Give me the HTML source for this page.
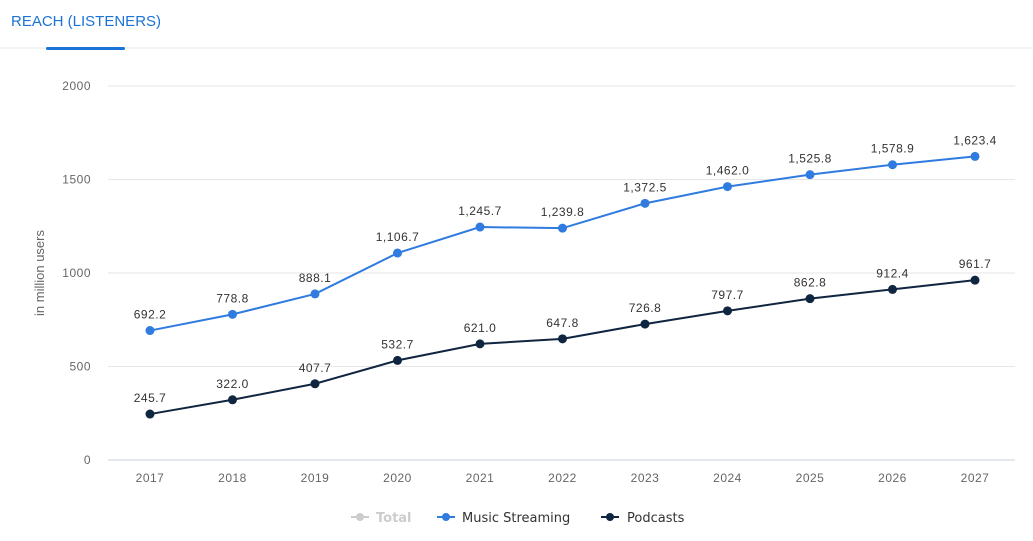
<!DOCTYPE html>
<html><head><meta charset="utf-8"><style>
html,body{margin:0;padding:0;background:#fff;width:1033px;height:541px;overflow:hidden;font-family:"Liberation Sans",sans-serif}
</style></head><body>
<svg id="c" width="1033" height="541" xmlns="http://www.w3.org/2000/svg">
<text x="11" y="26" font-size="15" fill="#1a73d6">REACH (LISTENERS)</text>
<rect x="0" y="47" width="1033" height="2" fill="#f0f4f8"/>
<rect x="46" y="47" width="79" height="3" rx="1.5" fill="#1a73d6"/>
<text transform="translate(44,273) rotate(-90)" text-anchor="middle" font-size="13" fill="#666">in million users</text>
<g id="legend" font-size="13" font-family="DejaVu Sans, sans-serif">
<g><line x1="351" y1="517" x2="369" y2="517" stroke="#ccc" stroke-width="2"/><circle cx="360" cy="517" r="4" fill="#ccc"/><text x="376" y="522" fill="#ccc" font-weight="bold">Total</text></g>
<g><line x1="437" y1="517" x2="455" y2="517" stroke="#2f7be0" stroke-width="2"/><circle cx="446" cy="517" r="4" fill="#2f7be0"/><text x="462" y="522" fill="#333">Music Streaming</text></g>
<g><line x1="601" y1="517" x2="619" y2="517" stroke="#0f2540" stroke-width="2"/><circle cx="610" cy="517" r="4" fill="#0f2540"/><text x="627" y="522" fill="#333">Podcasts</text></g>
</g>
</svg>
<script>
const years=["2017","2018","2019","2020","2021","2022","2023","2024","2025","2026","2027"];
const music=[692.2,778.8,888.1,1106.7,1245.7,1239.8,1372.5,1462.0,1525.8,1578.9,1623.4];
const podcasts=[245.7,322.0,407.7,532.7,621.0,647.8,726.8,797.7,862.8,912.4,961.7];
const yTicks=[0,500,1000,1500,2000];
const NS="http://www.w3.org/2000/svg",svg=document.getElementById('c');
const X=i=>150+i*82.5, Y=v=>460-v*0.187;
function mk(t,a,p){const e=document.createElementNS(NS,t);for(const k in a)e.setAttribute(k,a[k]);(p||svg).appendChild(e);return e;}
yTicks.forEach(v=>{
 const l=mk('line',{x1:108,x2:1015,y1:Y(v),y2:Y(v),stroke:v===0?'#ccd2e0':'#e6e6e6','stroke-width':1});
 
 
 const t=mk('text',{x:91,y:Y(v)+4,'text-anchor':'end','font-size':12,fill:'#666','letter-spacing':'0.5'});t.textContent=v;
 
 
});
years.forEach((y,i)=>{
 const t=mk('text',{x:X(i),y:482,'text-anchor':'middle','font-size':12,fill:'#666','letter-spacing':'0.5'});t.textContent=y;
 
 
});
function series(vals,color,name){
 const p=mk('polyline',{points:vals.map((v,i)=>X(i)+','+Y(v)).join(' '),fill:'none',stroke:color,'stroke-width':2});
 
 
 vals.forEach((v,i)=>{
  const c=mk('circle',{cx:X(i),cy:Y(v),r:4.5,fill:color});
  
  
  const t=mk('text',{x:X(i),y:Y(v)-12,'text-anchor':'middle','font-size':12,fill:'#333','letter-spacing':'0.5'});
  t.textContent=v.toLocaleString('en-US',{minimumFractionDigits:1,maximumFractionDigits:1});
  
  
 });
}
series(music,'#2f7be0','music-streaming');
series(podcasts,'#0f2540','podcasts');
</script>
</body></html>
